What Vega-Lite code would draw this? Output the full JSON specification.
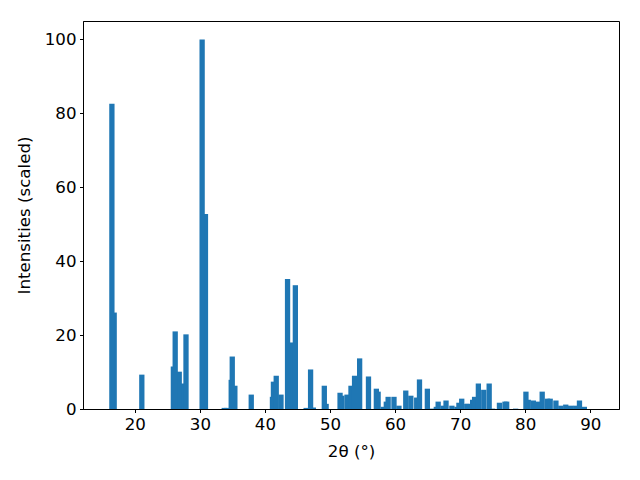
{
  "$schema": "https://vega.github.io/schema/vega-lite/v6.json",
  "autosize": {"type": "none"},
  "padding": {"left": 83, "top": 21, "right": 21, "bottom": 71},
  "width": 536,
  "height": 388,
  "background": "white",
  "config": {
    "view": {"stroke": "black", "strokeWidth": 1},
    "font": "DejaVu Sans",
    "axis": {
      "grid": false,
      "domainColor": "black",
      "domainWidth": 1,
      "tickColor": "black",
      "tickSize": 3.5,
      "tickWidth": 1,
      "labelColor": "black",
      "labelFont": "DejaVu Sans",
      "labelFontSize": 16.67,
      "labelPadding": 3.5,
      "titleColor": "black",
      "titleFont": "DejaVu Sans",
      "titleFontSize": 16.67,
      "titleFontWeight": "normal"
    }
  },
  "data": {
    "values": [
      {"two_theta": 16.88, "intensity": 82.6},
      {"two_theta": 17.23, "intensity": 26.1},
      {"two_theta": 21.48, "intensity": 9.3},
      {"two_theta": 26.33, "intensity": 11.5},
      {"two_theta": 26.61, "intensity": 21.0},
      {"two_theta": 27.23, "intensity": 10.1},
      {"two_theta": 27.76, "intensity": 6.9},
      {"two_theta": 28.27, "intensity": 20.2},
      {"two_theta": 30.75, "intensity": 100.0},
      {"two_theta": 31.26, "intensity": 52.8},
      {"two_theta": 34.15, "intensity": 0.3},
      {"two_theta": 34.52, "intensity": 0.3},
      {"two_theta": 35.22, "intensity": 7.9},
      {"two_theta": 35.38, "intensity": 14.2},
      {"two_theta": 35.78, "intensity": 6.3},
      {"two_theta": 38.3, "intensity": 3.9},
      {"two_theta": 41.56, "intensity": 3.3},
      {"two_theta": 41.71, "intensity": 7.4},
      {"two_theta": 42.14, "intensity": 9.0},
      {"two_theta": 42.87, "intensity": 3.9},
      {"two_theta": 43.88, "intensity": 35.2},
      {"two_theta": 44.4, "intensity": 18.0},
      {"two_theta": 45.08, "intensity": 33.5},
      {"two_theta": 46.74, "intensity": 0.3},
      {"two_theta": 47.42, "intensity": 10.7},
      {"two_theta": 47.85, "intensity": 0.4},
      {"two_theta": 49.53, "intensity": 6.3},
      {"two_theta": 49.81, "intensity": 1.4},
      {"two_theta": 51.95, "intensity": 4.4},
      {"two_theta": 52.22, "intensity": 3.6},
      {"two_theta": 53.02, "intensity": 3.9},
      {"two_theta": 53.63, "intensity": 6.3},
      {"two_theta": 54.18, "intensity": 9.0},
      {"two_theta": 54.96, "intensity": 13.7},
      {"two_theta": 56.32, "intensity": 8.8},
      {"two_theta": 57.53, "intensity": 5.5},
      {"two_theta": 57.8, "intensity": 4.7},
      {"two_theta": 58.6, "intensity": 0.6},
      {"two_theta": 59.06, "intensity": 2.0},
      {"two_theta": 59.34, "intensity": 3.3},
      {"two_theta": 60.24, "intensity": 3.3},
      {"two_theta": 61.0, "intensity": 0.9},
      {"two_theta": 62.05, "intensity": 5.0},
      {"two_theta": 62.83, "intensity": 3.6},
      {"two_theta": 63.73, "intensity": 3.1},
      {"two_theta": 64.16, "intensity": 8.0},
      {"two_theta": 65.37, "intensity": 5.5},
      {"two_theta": 66.05, "intensity": 0.1},
      {"two_theta": 66.75, "intensity": 0.6},
      {"two_theta": 67.03, "intensity": 2.0},
      {"two_theta": 67.8, "intensity": 0.9},
      {"two_theta": 68.24, "intensity": 2.3},
      {"two_theta": 69.14, "intensity": 0.9},
      {"two_theta": 69.92, "intensity": 0.6},
      {"two_theta": 70.22, "intensity": 1.7},
      {"two_theta": 70.65, "intensity": 2.8},
      {"two_theta": 71.43, "intensity": 1.4},
      {"two_theta": 71.55, "intensity": 1.4},
      {"two_theta": 72.33, "intensity": 2.5},
      {"two_theta": 72.63, "intensity": 3.3},
      {"two_theta": 73.21, "intensity": 6.9},
      {"two_theta": 74.04, "intensity": 5.2},
      {"two_theta": 74.87, "intensity": 6.9},
      {"two_theta": 75.4, "intensity": 0.1},
      {"two_theta": 76.45, "intensity": 1.7},
      {"two_theta": 77.3, "intensity": 2.0},
      {"two_theta": 77.56, "intensity": 2.0},
      {"two_theta": 78.94, "intensity": 0.1},
      {"two_theta": 80.52, "intensity": 4.7},
      {"two_theta": 80.88, "intensity": 2.5},
      {"two_theta": 81.66, "intensity": 2.3},
      {"two_theta": 82.43, "intensity": 2.0},
      {"two_theta": 83.02, "intensity": 4.7},
      {"two_theta": 83.84, "intensity": 2.8},
      {"two_theta": 84.25, "intensity": 2.8},
      {"two_theta": 85.13, "intensity": 2.3},
      {"two_theta": 85.88, "intensity": 0.9},
      {"two_theta": 86.64, "intensity": 1.2},
      {"two_theta": 87.39, "intensity": 0.9},
      {"two_theta": 88.17, "intensity": 0.9},
      {"two_theta": 88.75, "intensity": 2.3},
      {"two_theta": 89.5, "intensity": 0.6}
    ]
  },
  "mark": {"type": "bar", "width": 5.3, "xOffset": -2.65, "color": "#1f77b4"},
  "encoding": {
    "x": {
      "field": "two_theta",
      "type": "quantitative",
      "scale": {"domain": [12.8, 93.65], "nice": false, "zero": false},
      "axis": {"values": [20, 30, 40, 50, 60, 70, 80, 90], "title": "2θ (°)", "titlePadding": 11}
    },
    "y": {
      "field": "intensity",
      "type": "quantitative",
      "stack": null,
      "scale": {"domain": [0, 105], "nice": false},
      "axis": {"values": [0, 20, 40, 60, 80, 100], "title": "Intensities (scaled)", "titlePadding": 11}
    },
    "order": {"field": "intensity", "type": "quantitative"}
  }
}
